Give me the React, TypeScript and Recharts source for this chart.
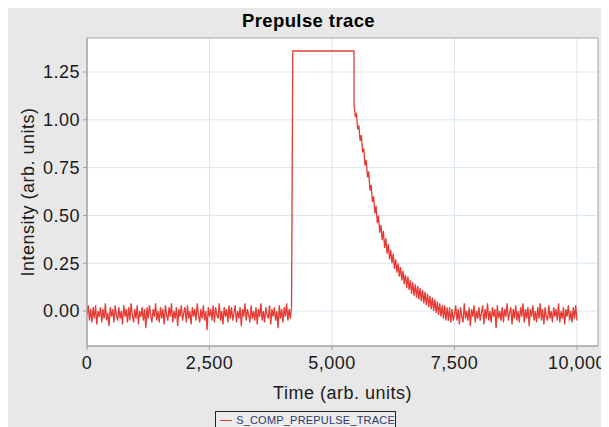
import { CartesianGrid, Line, LineChart, ReferenceArea, XAxis, YAxis } from "recharts";

// trace sampled every 25 time units
const step = 25;
const preValues = [
  -0.02, 0.03, -0.05, 0.01, -0.06, 0.02, -0.04, 0.03, -0.07, 0.0,
  -0.03, 0.02, -0.06, 0.01, -0.04, 0.04, -0.05, -0.01, -0.08, 0.02,
  -0.03, 0.01, -0.06, 0.03, -0.02, -0.05, 0.02, -0.04, 0.0, -0.07,
  0.03, -0.03, 0.01, -0.06, 0.02, -0.05, 0.04, -0.02, -0.06, 0.01,
  -0.04, 0.03, -0.07, 0.0, -0.03, 0.02, -0.05, 0.01, -0.09, 0.02,
  -0.04, 0.03, -0.02, -0.06, 0.01, -0.03, 0.04, -0.05, 0.0, -0.06,
  0.02, -0.04, 0.01, -0.07, 0.03, -0.02, -0.05, 0.02, -0.03, 0.04,
  -0.06, 0.0, -0.04, 0.02, -0.08, 0.01, -0.03, 0.03, -0.05, -0.01,
  0.02, -0.06, 0.03, -0.04, 0.0, -0.07, 0.02, -0.03, 0.01, -0.05,
  0.04, -0.02, -0.06, 0.01, -0.04, 0.03, -0.05, 0.0, -0.1, 0.02,
  -0.03, 0.01, -0.05, 0.03, -0.06, 0.02, -0.02, -0.04, 0.04, -0.05,
  0.0, -0.07, 0.02, -0.03, 0.01, -0.06, 0.03, -0.04, 0.02, -0.05,
  -0.01, 0.03, -0.06, 0.0, -0.04, 0.02, -0.08, 0.01, -0.03, 0.04,
  -0.05, 0.01, -0.02, -0.06, 0.03, -0.04, 0.0, -0.05, 0.02, -0.07,
  0.01, -0.03, 0.04, -0.05, 0.0, -0.06, 0.02, -0.02, -0.04, 0.03,
  -0.07, 0.01, -0.03, 0.02, -0.05, 0.0, -0.09, 0.03, -0.04, 0.01,
  -0.06, 0.02, -0.03, 0.04, -0.05, 0.01, -0.04, 0.02,
];
const pulseStart = 4200;
const pulseEnd = 5450;
const pulseLevel = 1.36;
const decayValues = [
  1.08, 1.02, 1.03, 0.95, 0.97, 0.89, 0.92, 0.83, 0.85, 0.76,
  0.79, 0.7, 0.73, 0.63, 0.66, 0.57, 0.6, 0.51, 0.55, 0.46,
  0.5, 0.41, 0.45, 0.37, 0.42, 0.33, 0.38, 0.3, 0.35, 0.27,
  0.32, 0.25, 0.3, 0.22, 0.27, 0.2, 0.25, 0.18, 0.23, 0.16,
  0.21, 0.14, 0.19, 0.12, 0.18, 0.11, 0.16, 0.09, 0.15, 0.08,
  0.14, 0.07, 0.13, 0.06, 0.12, 0.05, 0.11, 0.04, 0.1, 0.03,
  0.09, 0.02, 0.08, 0.01, 0.07, 0.0, 0.06, -0.01, 0.05, -0.02,
  0.04, -0.03, 0.03, -0.04, 0.03, -0.05, 0.02, -0.05, 0.02, -0.06,
  0.01, -0.05,
];
const tailStart = 7500;
const tailValues = [
  -0.02, 0.03, -0.05, 0.01, -0.07, 0.02, -0.03, -0.06, 0.04, -0.04,
  0.0, -0.05, 0.02, -0.08, 0.01, -0.03, 0.03, -0.06, 0.0, -0.04,
  0.02, -0.05, -0.01, 0.03, -0.07, 0.01, -0.04, 0.04, -0.05, 0.0,
  -0.06, 0.02, -0.03, 0.01, -0.09, 0.03, -0.04, 0.0, -0.05, 0.02,
  -0.06, 0.01, -0.03, 0.04, -0.05, -0.01, 0.02, -0.07, 0.01, -0.04,
  0.03, -0.05, 0.0, -0.06, 0.02, -0.03, 0.04, -0.06, 0.01, -0.04,
  0.02, -0.08, 0.01, -0.03, 0.03, -0.05, 0.0, -0.06, 0.02, -0.04,
  0.04, -0.05, 0.01, -0.07, 0.02, -0.03, -0.05, 0.03, -0.04, 0.0,
  -0.06, 0.02, -0.03, 0.01, -0.05, 0.04, -0.06, 0.0, -0.04, 0.02,
  -0.07, 0.01, -0.03, 0.03, -0.05, 0.0, -0.06, 0.02, -0.04, 0.03,
  -0.05,
];

const xTicks = [0, 2500, 5000, 7500, 10000];
const yTicks = [0, 0.25, 0.5, 0.75, 1.0, 1.25];

const data = [
  ...preValues.map((v, i) => ({ t: i * step, v })),
  { t: pulseStart, v: pulseLevel },
  { t: pulseEnd, v: pulseLevel },
  ...decayValues.map((v, i) => ({ t: pulseEnd + i * step, v })),
  ...tailValues.map((v, i) => ({ t: tailStart + i * step, v })),
];

const RED = "#e53b35";
const FONT = "'Liberation Sans', Arial, sans-serif";
const textStyle = { fill: "#1a1a1a", fontSize: 18, letterSpacing: 0.5 };

export default function App() {
  return (
    <div style={{ position: "relative", width: 601, height: 419, background: "#e8e8e8", fontFamily: FONT, overflow: "hidden" }}>
      <div style={{ position: "absolute", top: 2, left: 0, width: 601, textAlign: "center", fontWeight: "bold", fontSize: 18.5, letterSpacing: 0.4, color: "#000" }}>
        Prepulse trace
      </div>
      <LineChart width={601} height={419} data={data} margin={{ top: 30, right: 11, bottom: 0, left: 0 }}>
        <CartesianGrid fill="#ffffff" stroke="#dbe7f1" strokeWidth={1} horizontalValues={yTicks} verticalValues={xTicks} />
        <XAxis
          dataKey="t"
          type="number"
          domain={[0, 10430]}
          ticks={xTicks}
          allowDataOverflow
          tickFormatter={(v: number) => v.toLocaleString("en-US")}
          tick={textStyle}
          stroke="#a0a0a0"
          tickSize={4}
          tickMargin={6}
          height={81}
          label={{ value: "Time (arb. units)", position: "insideTop", offset: 40, style: textStyle }}
        />
        <YAxis
          type="number"
          domain={[-0.183, 1.428]}
          ticks={yTicks}
          allowDataOverflow
          tickFormatter={(v: number) => v.toFixed(2)}
          tick={textStyle}
          stroke="#a0a0a0"
          tickSize={4}
          tickMargin={3}
          width={79}
          label={{ value: "Intensity (arb. units)", angle: -90, position: "insideLeft", offset: 20, style: { ...textStyle, textAnchor: "middle" } }}
        />
        <ReferenceArea x1={0} x2={10430} y1={-0.183} y2={1.428} fill="none" stroke="#a8a8a8" strokeWidth={1} ifOverflow="visible" />
        <Line type="linear" dataKey="v" stroke={RED} strokeWidth={1.3} dot={false} isAnimationActive={false} />
      </LineChart>
      <div
        style={{
          position: "absolute",
          left: 207,
          top: 403,
          width: 181,
          height: 30,
          border: "1.5px solid #222",
          background: "#ececec",
          display: "flex",
          alignItems: "flex-start",
          paddingTop: 2,
          boxSizing: "border-box",
          fontSize: 11,
          color: "#2b3a6b",
        }}
      >
        <span style={{ display: "inline-block", width: 14, height: 1, background: RED, margin: "6px 4px 0 4px" }} />
        <span style={{ letterSpacing: 0.2 }}>S_COMP_PREPULSE_TRACE</span>
      </div>
    </div>
  );
}
